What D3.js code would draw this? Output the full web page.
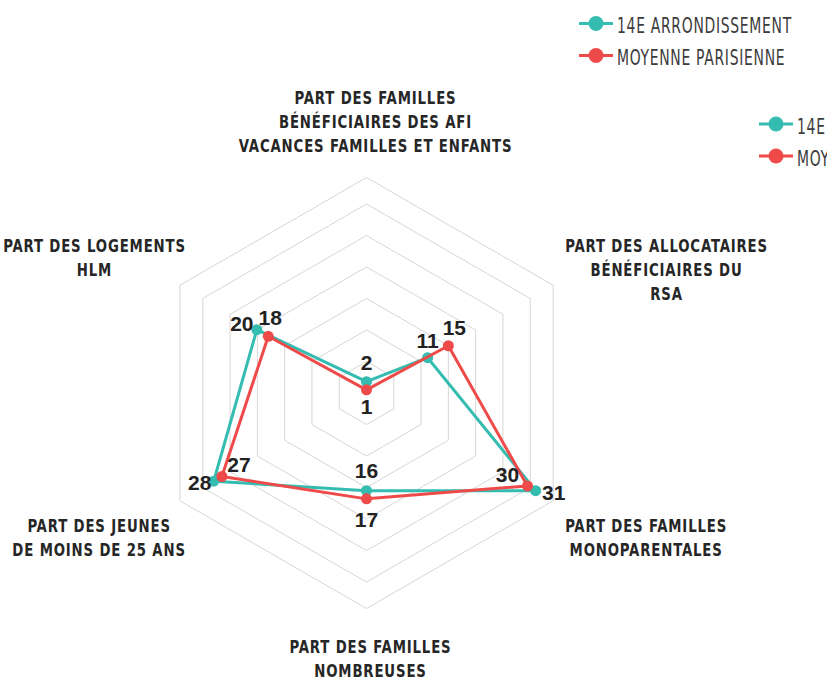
<!DOCTYPE html>
<html>
<head>
<meta charset="utf-8">
<script src="https://cdn.jsdelivr.net/npm/d3@7"></script>
<style>
body { margin: 0; background: #fff; }
svg { display: block; }
.grid { fill: none; stroke: #d6d6d6; stroke-width: 1; }
.axis-label { font-family: "Liberation Sans Narrow", "Arial Narrow", "DejaVu Sans Condensed", sans-serif; font-weight: bold; font-size: 17.5px; fill: #262626; letter-spacing: 1px; }
.value-label { font-family: "Liberation Sans", Arial, sans-serif; font-weight: bold; font-size: 21px; fill: #222; }
.legend-text { font-family: "DejaVu Sans Condensed", "DejaVu Sans", sans-serif; font-weight: 300; font-size: 22px; fill: #3c3c3c; letter-spacing: 1px; }
</style>
</head>
<body>
<svg class="main" width="827" height="680"></svg>
<script>
var categories = [
    ["PART DES FAMILLES", "BÉNÉFICIAIRES DES AFI", "VACANCES FAMILLES ET ENFANTS"],
    ["PART DES ALLOCATAIRES", "BÉNÉFICIAIRES DU", "RSA"],
    ["PART DES FAMILLES", "MONOPARENTALES"],
    ["PART DES FAMILLES", "NOMBREUSES"],
    ["PART DES JEUNES", "DE MOINS DE 25 ANS"],
    ["PART DES LOGEMENTS", "HLM"]
];
var values14e = [1.8, 11.2, 31.0, 15.5, 28.0, 20.1];
var valuesParis = [0.5, 15.0, 29.5, 16.8, 26.5, 18.0];
var seriesNames = ["14E ARRONDISSEMENT", "MOYENNE PARISIENNE"];
var seriesColors = ["#35bcb0", "#ef4a4a"];
var gridTicks = [5, 10, 15, 20, 25, 30];
var rMax = 34.2;

// where each value label sits relative to its point
var offsets14e = [[0, -19], [0, -17], [18, 2], [0, -20], [-14, 1], [-15, -6]];
var offsetsParis = [[0, 17], [6, -18], [-20, -11], [0, 21], [17, -12], [2, -19]];

var cx = 366.5, cy = 393, R = 215.5;
var svg = d3.select("svg.main");
var g = svg.append("g").attr("transform", "translate(" + cx + "," + cy + ")");

var r = d3.scaleLinear().domain([0, rMax]).range([0, R]);
var n = categories.length;
function ang(i) { return i * 2 * Math.PI / n; }
function px(i, v) { return r(v) * Math.sin(ang(i)); }
function py(i, v) { return -r(v) * Math.cos(ang(i)); }

var radial = d3.lineRadial()
    .angle(function (d, i) { return ang(i); })
    .radius(function (d) { return r(d); })
    .curve(d3.curveLinearClosed);

// grid hexagons
gridTicks.concat([rMax]).forEach(function (t) {
    g.append("path")
        .attr("class", "grid")
        .attr("d", radial(d3.range(n).map(function () { return t; })));
});

// series
var series = [
    { name: seriesNames[0], values: values14e, color: seriesColors[0], offsets: offsets14e },
    { name: seriesNames[1], values: valuesParis, color: seriesColors[1], offsets: offsetsParis }
];

series.forEach(function (s) {
    g.append("path")
        .attr("d", radial(s.values))
        .attr("fill", "none")
        .attr("stroke", s.color)
        .attr("stroke-width", 3)
        .attr("stroke-linejoin", "round");
    g.selectAll(null).data(s.values).enter().append("circle")
        .attr("cx", function (d, i) { return px(i, d); })
        .attr("cy", function (d, i) { return py(i, d); })
        .attr("r", 5.5)
        .attr("fill", s.color);
});

series.forEach(function (s) {
    g.selectAll(null).data(s.values).enter().append("text")
        .attr("class", "value-label")
        .attr("text-anchor", "middle")
        .attr("x", function (d, i) { return px(i, d) + s.offsets[i][0]; })
        .attr("y", function (d, i) { return py(i, d) + s.offsets[i][1] + 7.5; })
        .text(function (d) { return Math.round(d); });
});

// axis labels (condensed look: measure and squeeze)
var probe = svg.append("text").attr("class", "axis-label").text("PART DES FAMILLES");
var axisScale = 162 / probe.node().getComputedTextLength();
probe.remove();

var shiftX = 9;
categories.forEach(function (lines, i) {
    var vx = px(i, rMax), vy = py(i, rMax);
    var grp = g.append("g");
    var texts = lines.map(function (l) {
        return grp.append("text").attr("class", "axis-label").attr("text-anchor", "middle").text(l);
    });
    var wmax = d3.max(texts, function (t) { return t.node().getComputedTextLength() * axisScale; });
    var x, y0;
    if (i === 0) {
        x = vx + shiftX;
        y0 = vy - 26 - 24 * (lines.length - 1);
    } else if (i === n / 2) {
        x = vx + 4;
        y0 = vy + 44;
    } else {
        var side = vx > 0 ? 1 : -1;
        x = vx + side * (3 + wmax / 2) + shiftX;
        y0 = vy < 0 ? vy - 33 : vy + 31;
    }
    texts.forEach(function (t, k) {
        t.attr("transform", "translate(" + x + "," + (y0 + 24 * k) + ") scale(" + axisScale + ",1)");
    });
});

// legends (the chart shows two copies, the second cut off at the right edge)
var probe2 = svg.append("text").attr("class", "legend-text").text(seriesNames[0]);
var legendScale = 175 / probe2.node().getComputedTextLength();
probe2.remove();

function drawLegend(x, y, rowH) {
    series.forEach(function (s, k) {
        var ly = y + k * rowH;
        var lg = svg.append("g").attr("transform", "translate(" + x + "," + ly + ")");
        lg.append("line")
            .attr("x1", -17).attr("x2", 17)
            .attr("stroke", s.color).attr("stroke-width", 3);
        lg.append("circle").attr("r", 7.5).attr("fill", s.color);
        lg.append("text")
            .attr("class", "legend-text")
            .attr("transform", "translate(21,9.5) scale(" + legendScale + ",1)")
            .text(s.name);
    });
}
drawLegend(596, 23.5, 32);
drawLegend(776, 124, 32);
</script>
</body>
</html>
